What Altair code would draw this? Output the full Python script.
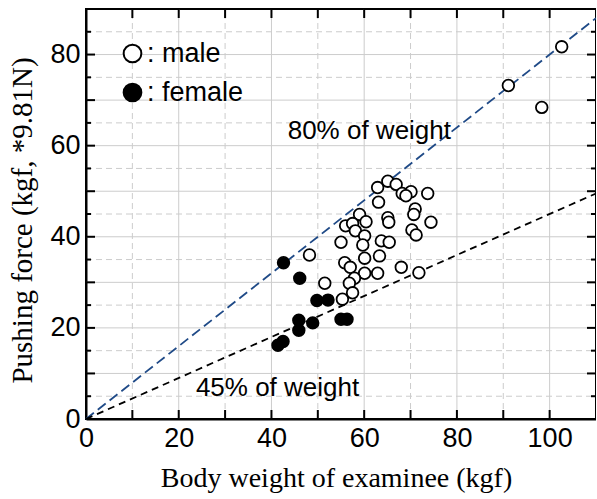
import altair as alt
import pandas as pd

# Body weight (kgf) and pushing force (kgf) of each examinee
male_weight = [62.9, 65.1, 66.9, 68.2, 70.1, 69.0, 73.7, 63.1, 71.0, 70.7,
               74.4, 59.0, 60.4, 65.1, 65.3, 56.0, 57.5, 58.1, 60.1, 70.3,
               71.2, 55.0, 59.7, 63.7, 65.4, 60.1, 63.3, 55.8, 57.0, 60.1,
               62.9, 68.0, 71.8, 57.9, 56.8, 51.5, 57.5, 55.3, 48.2, 102.6,
               91.1, 98.3]
male_force = [50.8, 52.2, 51.5, 49.5, 49.9, 49.0, 49.5, 47.6, 46.1, 44.9,
              43.2, 44.9, 43.3, 44.2, 43.2, 42.4, 42.9, 41.3, 40.2, 41.5,
              40.4, 38.8, 38.2, 39.1, 38.8, 35.3, 35.8, 34.3, 33.3, 32.0,
              32.0, 33.3, 32.1, 30.9, 29.8, 29.8, 27.7, 26.3, 36.0, 81.7,
              73.2, 68.4]
female_weight = [42.6, 46.1, 49.8, 52.2, 45.9, 45.9, 48.9, 55.0, 56.3, 42.5, 41.4]
female_force = [34.3, 30.9, 26.0, 26.1, 21.7, 19.5, 21.1, 21.9, 21.9, 17.0, 16.2]
sex_labels = ["male", "female"]

# Reference lines: pushing force as a share of body weight
line_ratios = [0.80, 0.45]
line_names = ["80% of weight", "45% of weight"]
line_colors = ["#1f4a87", "#000000"]
line_dashes = [[10, 5], [7, 5]]

# Line captions, anchored in data units
note_text = ["80% of weight", "45% of weight"]
note_x = [43.5, 23.7]
note_y = [61.5, 5.0]

x_domain = [0, 110]
y_domain = [0, 90]

# Labelled values, grid lines and frame ticks
x_label_values = [0, 20, 40, 60, 80, 100]
y_label_values = [0, 20, 40, 60, 80]
x_major = [20, 40, 60, 80, 100]
x_minor = [10, 30, 50, 70, 90]
y_major = [10, 20, 30, 40, 50, 60, 70, 80]
y_minor = [5, 15, 25, 35, 45, 55, 65, 75, 85]

SANS = "Liberation Sans"
SERIF = "Liberation Serif"
W, H = 510, 410
MAJOR, MINOR = 9, 5
GRID = "#cccccc"

points = pd.DataFrame({
    "weight": male_weight + female_weight,
    "force": male_force + female_force,
    "sex": [sex_labels[0]] * len(male_weight) + [sex_labels[1]] * len(female_weight),
})

line_rows = []
for name, r in zip(line_names, line_ratios):
    for w in x_domain:
        line_rows.append({"weight": w, "force": r * w, "series": name})
lines = pd.DataFrame(line_rows)

notes = pd.DataFrame({"weight": note_x, "force": note_y, "text": note_text})

xs = alt.Scale(domain=x_domain, nice=False, zero=False)
ys = alt.Scale(domain=y_domain, nice=False, zero=False)

x_main = alt.Axis(
    orient="bottom", values=x_label_values,
    labelOverlap=False, labelFlush=False, labelFont=SANS, labelFontSize=27,
    labelColor="black", labelPadding=6, ticks=False, grid=False,
    domain=True, domainColor="black", domainWidth=2,
    title="Body weight of examinee (kgf)", titleFont=SERIF, titleFontSize=28,
    titleFontWeight="normal", titleColor="black", titleX=250, titleY=59,
    titleBaseline="middle", titleAlign="center",
)
y_main = alt.Axis(
    orient="left", values=y_label_values,
    labelOverlap=False, labelFlush=False, labelFont=SANS, labelFontSize=27,
    labelColor="black", labelPadding=6, ticks=False, grid=False,
    domain=True, domainColor="black", domainWidth=2,
    title="Pushing force (kgf, *9.81N)", titleFont=SERIF, titleFontSize=29,
    titleFontWeight="normal", titleColor="black", titleX=-64, titleY=211,
    titleAngle=270, titleBaseline="middle", titleAlign="center",
)


def vsegments(values, lo, hi, **style):
    df = pd.DataFrame({"weight": values, "force": lo, "force2": hi})
    return alt.Chart(df).mark_rule(**style).encode(
        x=alt.X("weight:Q", scale=xs, axis=None),
        y=alt.Y("force:Q", scale=ys, axis=None),
        y2="force2:Q",
    )


def hsegments(values, lo, hi, **style):
    df = pd.DataFrame({"force": values, "weight": lo, "weight2": hi})
    return alt.Chart(df).mark_rule(**style).encode(
        y=alt.Y("force:Q", scale=ys, axis=None),
        x=alt.X("weight:Q", scale=xs, axis=None),
        x2="weight2:Q",
    )


solid_grid = dict(color=GRID, strokeWidth=1)
dashed_grid = dict(color=GRID, strokeWidth=1, strokeDash=[6, 4])

x0, x1 = x_domain
y0, y1 = y_domain

grid_layers = [
    vsegments(x_minor, y0, y1, **dashed_grid), vsegments(x_major, y0, y1, **solid_grid),
    hsegments(y_minor, x0, x1, **dashed_grid), hsegments(y_major, x0, x1, **solid_grid),
]

ref_lines = alt.Chart(lines).mark_line(strokeWidth=1.8).encode(
    x=alt.X("weight:Q", scale=xs, axis=x_main),
    y=alt.Y("force:Q", scale=ys, axis=y_main),
    color=alt.Color("series:N", scale=alt.Scale(domain=line_names, range=line_colors), legend=None),
    strokeDash=alt.StrokeDash("series:N", scale=alt.Scale(domain=line_names, range=line_dashes), legend=None),
)


# Inward tick marks: centred on the frame edge, the outer half clipped away
def frame_ticks(weights, forces, orient, length):
    df = pd.DataFrame({"weight": weights, "force": forces})
    return alt.Chart(df).mark_tick(
        orient=orient, size=2 * length, thickness=2, color="black",
        opacity=1, clip=True,
    ).encode(
        x=alt.X("weight:Q", scale=xs, axis=None),
        y=alt.Y("force:Q", scale=ys, axis=None),
    )


x_tick_values = sorted(x_major + x_minor)
tick_layers = [
    frame_ticks(x_tick_values, y0, "vertical", MAJOR),
    frame_ticks(x_tick_values, y1, "vertical", MAJOR),
    frame_ticks(x0, y_major, "horizontal", MAJOR),
    frame_ticks(x1, y_major, "horizontal", MAJOR),
    frame_ticks(x0, y_minor, "horizontal", MINOR),
    frame_ticks(x1, y_minor, "horizontal", MINOR),
]

dots = alt.Chart(points).mark_circle(size=135, stroke="black", strokeWidth=1.8, opacity=1).encode(
    x=alt.X("weight:Q", scale=xs, axis=None),
    y=alt.Y("force:Q", scale=ys, axis=None),
    fill=alt.Fill(
        "sex:N",
        scale=alt.Scale(domain=sex_labels, range=["white", "black"]),
        legend=alt.Legend(
            title=None, orient="none", legendX=33, legendY=31, padding=0,
            symbolType="circle", symbolSize=314, symbolStrokeColor="black",
            symbolStrokeWidth=2, symbolOpacity=1,
            labelExpr="': ' + datum.label", labelFont=SANS, labelFontSize=27,
            labelColor="black", labelOffset=1, rowPadding=11,
        ),
    ),
)

captions = alt.Chart(notes).mark_text(
    font=SANS, fontSize=26, align="left", baseline="alphabetic", color="black"
).encode(
    x=alt.X("weight:Q", scale=xs, axis=None),
    y=alt.Y("force:Q", scale=ys, axis=None),
    text="text:N",
)

chart = alt.layer(*grid_layers, ref_lines, *tick_layers, dots, captions).resolve_axis(
    x="independent", y="independent"
).properties(
    width=W, height=H,
    autosize=alt.AutoSizeParams(type="none"),
    padding={"left": 86, "top": 9, "right": 0, "bottom": 76},
    background="white",
).configure_view(stroke="black", strokeWidth=2)

chart.save("out.html", embed_options={"renderer": "svg", "actions": False})
